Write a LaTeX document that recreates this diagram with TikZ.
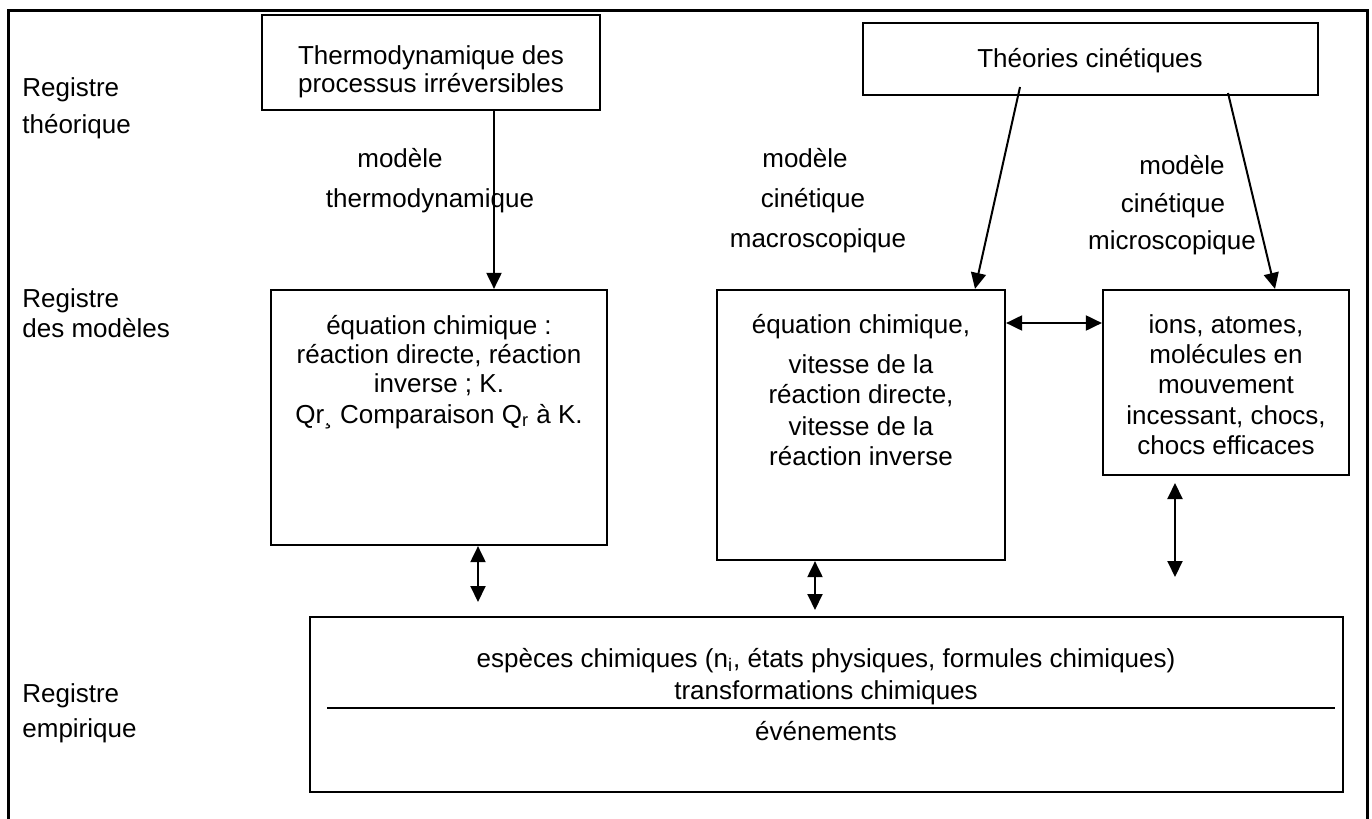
\documentclass[tikz,border=0pt]{standalone}
\usepackage{fontspec}
\setmainfont{Liberation Sans}
\usetikzlibrary{arrows.meta,fit}
\begin{document}
\begin{tikzpicture}[x=0.5pt,y=-0.5pt,
  box/.style={draw, line width=1.1pt, inner sep=0pt},
  txt/.style={font=\fontsize{13}{15}\selectfont, inner sep=0pt, anchor=base},
  lbl/.style={txt, anchor=base west},
  tip/.tip={Triangle[length=8pt,width=7.5pt]},
  arr/.style={line width=1pt, -tip},
  darr/.style={line width=1pt, tip-tip},
]
\useasboundingbox (0,0) rectangle (1372,819);

% outer frame, open at the bottom
\draw[line width=1.5pt] (8,819) -- (8,10) -- (1367,10) -- (1367,819);

% register labels
\node[lbl] (r1a) at (22,96)  {Registre};
\node[lbl] (r1b) at (22,133) {théorique};
\node[lbl] (r2a) at (22,307) {Registre};
\node[lbl] (r2b) at (22,337) {des modèles};
\node[lbl] (r3a) at (22,702) {Registre};
\node[lbl] (r3b) at (22,737) {empirique};

% theoretical boxes
\node[box, fit={(262,15) (600,110)}] (t1) {};
\node[txt] (t1a) at (431,64) {Thermodynamique des};
\node[txt] (t1b) at (431,92) {processus irréversibles};

\node[box, fit={(863,23) (1318,95)}] (t2) {};
\node[txt] (t2a) at (1090,68) {Théories cinétiques};

% model boxes
\node[box, fit={(271,290) (607,545)}] (m1) {};
\node[txt] (m1a) at (439,334) {équation chimique :};
\node[txt] (m1b) at (439,363) {réaction directe, réaction};
\node[txt] (m1c) at (439,392) {inverse ; K.};
\node[txt] (m1d) at (439,423) {Qr¸ Comparaison Q\textsubscript{r} à K.};

\node[box, fit={(717,290) (1005,560)}] (m2) {};
\node[txt] (m2a) at (861,333) {équation chimique,};
\node[txt] (m2b) at (861,373) {vitesse de la};
\node[txt] (m2c) at (861,403) {réaction directe,};
\node[txt] (m2d) at (861,435) {vitesse de la};
\node[txt] (m2e) at (861,465) {réaction inverse};

\node[box, fit={(1103,290) (1349,475)}] (m3) {};
\node[txt] (m3a) at (1226,333) {ions, atomes,};
\node[txt] (m3b) at (1226,363) {molécules en};
\node[txt] (m3c) at (1226,393) {mouvement};
\node[txt] (m3d) at (1226,424) {incessant, chocs,};
\node[txt] (m3e) at (1226,454) {chocs efficaces};

% empirical box
\node[box, fit={(310,617) (1343,792)}] (e) {};
\node[txt] (ea) at (826,667) {espèces chimiques (n\textsubscript{i}, états physiques, formules chimiques)};
\node[txt] (eb) at (826,699) {transformations chimiques};
\node[txt] (ec) at (826,740) {événements};
\coordinate (sepL) at (327,708);
\coordinate (sepR) at (1335,708);
\draw[line width=1.1pt] (sepL) -- (sepR);

% model labels
\node[txt] (l1a) at (400,167) {modèle};
\node[txt] (l1b) at (430,207) {thermodynamique};
\node[txt] (l2a) at (805,167) {modèle};
\node[txt] (l2b) at (813,207) {cinétique};
\node[txt] (l2c) at (818,247) {macroscopique};
\node[txt] (l3a) at (1182,174) {modèle};
\node[txt] (l3b) at (1173,212) {cinétique};
\node[txt] (l3c) at (1172,249) {microscopique};

% connectors
\coordinate (a1) at (494,0);
\draw[arr] (t1.south -| a1) -- (m1.north -| a1);

\coordinate (k1s) at (1020,87);
\coordinate (k1e) at (975,0);
\draw[arr] (k1s) -- (m2.north -| k1e);
\coordinate (k2s) at (1228,93);
\coordinate (k2e) at (1275,0);
\draw[arr] (k2s) -- (m3.north -| k2e);

\coordinate (h) at (0,323);
\draw[darr] (m2.east |- h) -- (m3.west |- h);

\coordinate (d1) at (478,602);
\draw[darr] (m1.south -| d1) -- (d1);
\coordinate (d2) at (815,610);
\draw[darr] (m2.south -| d2) -- (d2);
\coordinate (d3a) at (1175,483);
\coordinate (d3b) at (1175,577);
\draw[darr] (d3a) -- (d3b);
\end{tikzpicture}
\end{document}
